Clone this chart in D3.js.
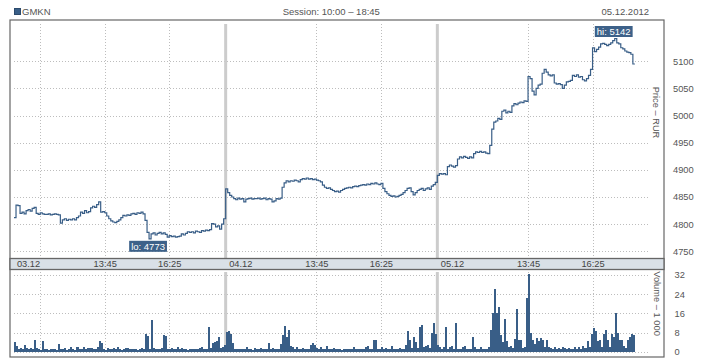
<!DOCTYPE html>
<html><head><meta charset="utf-8">
<script src="https://cdn.jsdelivr.net/npm/d3@7/dist/d3.min.js"></script>
<style>body{margin:0;background:#fff;} text{font-family:"Liberation Sans",Arial,sans-serif;}</style>
</head><body><svg id="c" width="718" height="360"></svg>
<script>
const ticker = "GMKN";
const sessionLabel = "Session: 10:00 – 18:45";
const dateLabel = "05.12.2012";
const dayLabels = ["03.12", "04.12", "05.12"];
const sessionMinutes = 525; // 10:00 – 18:45
const binMinutes = 5;
const timeTicks = [["13:45", 225], ["16:25", 385]];
const firstDayGrid = 65; // minutes after open (extra grid line on day 1)
const priceTicks = [4750, 4800, 4850, 4900, 4950, 5000, 5050, 5100];
const volTicks = [0, 8, 16, 24, 32];
const priceTitle = "Price – RUR";
const volTitle = "Volume – 1 000";

const price03 = [4812,4835,4834,4820,4822,4819,4825,4827,4824,4829,4831,4820,4818,4821,4819,4818,4818,4819,4817,4818,4819,4818,4817,4802,4808,4810,4807,4809,4808,4810,4808,4812,4815,4822,4820,4825,4821,4823,4830,4833,4831,4836,4841,4822,4823,4821,4815,4810,4806,4804,4803,4805,4808,4812,4816,4815,4817,4816,4819,4820,4818,4821,4820,4822,4819,4807,4785,4773,4782,4784,4780,4783,4785,4782,4784,4781,4776,4779,4777,4778,4776,4777,4778,4782,4780,4783,4786,4785,4786,4784,4787,4786,4785,4788,4787,4789,4788,4790,4801,4800,4795,4797,4791,4800,4810];
const price04 = [4865,4858,4853,4850,4847,4845,4848,4846,4847,4841,4846,4847,4848,4846,4847,4847,4848,4846,4847,4848,4845,4847,4846,4841,4843,4847,4846,4848,4868,4876,4880,4878,4880,4879,4881,4880,4878,4882,4884,4883,4885,4883,4884,4882,4883,4881,4880,4878,4872,4868,4866,4867,4864,4862,4860,4861,4859,4862,4864,4866,4867,4868,4867,4869,4870,4869,4871,4872,4873,4872,4874,4873,4875,4874,4876,4874,4873,4875,4866,4860,4856,4853,4851,4852,4850,4851,4853,4855,4858,4862,4866,4867,4860,4854,4858,4862,4864,4866,4862,4865,4867,4864,4870,4873,4877];
const price05 = [4890,4893,4892,4893,4891,4906,4909,4907,4905,4908,4920,4924,4922,4925,4923,4921,4924,4922,4930,4933,4932,4934,4932,4933,4931,4930,4945,4975,4988,4990,4995,4993,5008,5010,5005,5008,5006,5018,5022,5020,5023,5025,5024,5027,5026,5072,5068,5045,5038,5050,5056,5058,5078,5085,5080,5075,5073,5075,5060,5058,5059,5057,5050,5056,5062,5063,5065,5074,5072,5075,5071,5072,5066,5064,5068,5074,5085,5125,5118,5122,5126,5132,5133,5131,5129,5131,5134,5138,5142,5134,5132,5125,5123,5119,5117,5116,5113,5095];

const vol03 = [4.2,2.4,1.2,1.5,1,2.8,1.7,1,1.7,1,4.9,1.5,1,0.8,4.6,1,1,0.8,1,1,1.1,0.9,3.2,1,1,1.5,0.9,1,2,1,0.8,2,1,1,2,1,1.7,1.7,1.7,1,1,2,4.6,3.5,1,0.9,1.7,1,1,1.5,1,2,1,0.9,1,1.7,1.5,1,1,1.2,1,0.9,1,1.5,1,7.4,6.7,1.2,13.2,1.7,1,1,1,1.5,7,6.5,1,1,1.5,1,1,2,1,1.5,1,1,0.9,1,1,1,1,1,1.5,2,1,1.2,10.2,1.5,3.5,4,4.5,6,1.7,2,2.9];
const vol04 = [8.3,8.6,7.5,3.5,1,1.2,1,1,1.3,1,2,1,1,0.9,1.5,1,1,1.5,1,1,1,3.5,1,1.5,1,1,1.2,3.2,7,10.7,6,9,2.5,2,1,2,1,1,1.5,1,1,1,2.9,3.5,3,1.5,1,2,1,1,2.5,1,1,1.5,1,1,1,0.8,1,1,1,1,1,2,1,1,1,1,1,2,2.5,1,1,4.9,4.9,1,1,2,1,1.5,1,1,2.5,1,1,1,1.5,1,1,2.9,8.6,4.9,1.5,6.2,4,1.5,10.4,11,2,2.5,3,1.5,8,11.8,7.2];
const vol05 = [2.9,2,1,2,10.4,1.2,2,2.5,1,11.8,1,1.2,2,2.5,1,1,1.3,6,2,1,1,2,1,1,1.2,2,9,16.2,26,16,18.5,7,4,13.5,4.5,2,2.5,1.5,5.2,18,4.7,5,1.5,2,22.2,32.6,8,5,3.2,5.7,4.5,5.7,4.7,2,4.7,2,1.5,1,2,1,1.7,1,2,1.5,1,1.5,1,1,2,1,2,1,2.5,1.5,4.5,2,7.4,9.7,8.6,4.5,4.7,2,7.4,8.9,5,2,7.4,6,16.2,7.6,4.7,5,2.5,1.5,5,6.3,7.4,7];

const prices = [price03, price04, price05];
const vols = [vol03, vol04, vol05];

const blue = "#395e87";
const svg = d3.select("#c");
const frame = {l: 10, r: 664, t: 20, b: 357};
const plotL = 14, plotR = 649;

const x = d3.scaleLinear().domain([0, 3 * sessionMinutes]).range([plotL, plotR]);
const yP = d3.scaleLinear().domain([4750, 5100]).range([251.3, 61.3]);
const yV = d3.scaleLinear().domain([0, 32]).range([351.7, 275]);

// data points
const pts = [];
prices.forEach((arr, d) => arr.forEach((v, i) => pts.push({t: d * sessionMinutes + i * binMinutes, v})));
const last = pts[pts.length - 1];
const linePts = pts.concat([{t: last.t + binMinutes, v: last.v}]);
const vpts = [];
vols.forEach((arr, d) => arr.forEach((v, i) => vpts.push({t: d * sessionMinutes + i * binMinutes, v})));

// frame background
svg.append("rect").attr("x", frame.l).attr("y", frame.t).attr("width", frame.r - frame.l).attr("height", frame.b - frame.t)
  .attr("fill", "#fff").attr("stroke", "#666").attr("stroke-width", 1.2);

// vertical grid positions
const vGrid = [firstDayGrid];
[0, 1, 2].forEach(d => timeTicks.forEach(tt => vGrid.push(d * sessionMinutes + tt[1])));
const grid = svg.append("g").attr("stroke", "#bdbdbd").attr("stroke-width", 1).attr("stroke-dasharray", "1,2");
vGrid.forEach(t => {
  const xx = Math.round(x(t)) + 0.5;
  grid.append("line").attr("x1", xx).attr("x2", xx).attr("y1", 24).attr("y2", 258);
  grid.append("line").attr("x1", xx).attr("x2", xx).attr("y1", 272).attr("y2", 352);
});
priceTicks.forEach(p => {
  const yy = Math.round(yP(p)) + 0.5;
  grid.append("line").attr("x1", plotL).attr("x2", plotR).attr("y1", yy).attr("y2", yy);
});
volTicks.forEach(v => {
  const yy = Math.round(yV(v)) + 0.5;
  grid.append("line").attr("x1", plotL).attr("x2", plotR).attr("y1", yy).attr("y2", yy);
});

// day separators
[1, 2].forEach(d => {
  const xx = x(d * sessionMinutes);
  svg.append("line").attr("x1", xx).attr("x2", xx).attr("y1", 24).attr("y2", 258).attr("stroke", "#cccccc").attr("stroke-width", 3);
  svg.append("line").attr("x1", xx).attr("x2", xx).attr("y1", 272).attr("y2", 352).attr("stroke", "#cccccc").attr("stroke-width", 3);
});

// volume bars
const bw = x(binMinutes) - x(0);
svg.append("g").attr("shape-rendering", "crispEdges").selectAll("rect").data(vpts).join("rect")
  .attr("x", d => x(d.t)).attr("width", bw)
  .attr("y", d => yV(d.v)).attr("height", d => yV(0) - yV(d.v))
  .attr("fill", blue);

// price line
svg.append("path").datum(linePts)
  .attr("d", d3.line().x(d => x(d.t)).y(d => yP(d.v)).curve(d3.curveStepAfter))
  .attr("fill", "none").attr("stroke", blue).attr("stroke-width", 1.2);

// band for time axis
svg.append("rect").attr("x", frame.l).attr("y", 258.5).attr("width", frame.r - frame.l).attr("height", 11)
  .attr("fill", "#d9e0e7").attr("stroke", "#666").attr("stroke-width", 1.3);

const band = svg.append("g").attr("font-size", "9.3px").attr("fill", "#444");
dayLabels.forEach((lab, d) => {
  band.append("text").attr("x", d === 0 ? x(firstDayGrid) : x(d * sessionMinutes) + 3.5).attr("y", 267.3)
    .attr("text-anchor", d === 0 ? "end" : "start").text(lab);
  timeTicks.forEach(tt => band.append("text").attr("x", x(d * sessionMinutes + tt[1]) + 0.5).attr("y", 267.3)
    .attr("text-anchor", "middle").text(tt[0]));
});

// right axes
const pAxis = svg.append("g").attr("transform", `translate(${frame.r},0)`)
  .call(d3.axisRight(yP).tickValues(priceTicks).tickSize(0).tickPadding(9).tickFormat(d3.format("d")));
pAxis.select(".domain").remove();
pAxis.selectAll("text").attr("font-size", "9.3px").attr("fill", "#555").attr("font-family", '"Liberation Sans",Arial,sans-serif');
const vAxis = svg.append("g").attr("transform", `translate(${frame.r},0)`)
  .call(d3.axisRight(yV).tickValues(volTicks).tickSize(0).tickPadding(10.5).tickFormat(d3.format("d")));
vAxis.select(".domain").remove();
vAxis.selectAll("text").attr("font-size", "9.3px").attr("fill", "#555").attr("font-family", '"Liberation Sans",Arial,sans-serif');

svg.append("text").attr("transform", "translate(656,112.5) rotate(90)").attr("text-anchor", "middle")
  .attr("dominant-baseline", "central").attr("font-size", "9.3px").attr("fill", "#555").text(priceTitle);
svg.append("text").attr("transform", "translate(657,303.5) rotate(90)").attr("text-anchor", "middle")
  .attr("dominant-baseline", "central").attr("font-size", "9.3px").attr("fill", "#555").text(volTitle);

// header
svg.append("rect").attr("x", 14.5).attr("y", 8.5).attr("width", 6).attr("height", 6).attr("fill", blue).attr("stroke", "#2c4a6c").attr("stroke-width", 1);
svg.append("text").attr("x", 22).attr("y", 15).attr("font-size", "9.5px").attr("fill", "#555").text(ticker);
svg.append("text").attr("x", 331.3).attr("y", 15).attr("text-anchor", "middle").attr("font-size", "9.5px").attr("fill", "#555").text(sessionLabel);
svg.append("text").attr("x", plotR).attr("y", 15).attr("text-anchor", "end").attr("font-size", "9.5px").attr("fill", "#555").text(dateLabel);

// hi / lo labels
const hi = pts.reduce((a, b) => b.v > a.v ? b : a);
const lo = pts.reduce((a, b) => b.v < a.v ? b : a);
function flag(p, txt, above) {
  const g = svg.append("g");
  const t = g.append("text").attr("font-size", "9.5px").attr("fill", "#fff").attr("text-anchor", "middle").text(txt);
  const w = t.node().getComputedTextLength() + 4, h = 11;
  const cx = x(p.t) - 1;
  const top = above ? yP(p.v) - 1.5 - h : yP(p.v) + 2;
  g.insert("rect", "text").attr("x", cx - w / 2).attr("y", top).attr("width", w).attr("height", h).attr("fill", "#3d6189");
  t.attr("x", cx).attr("y", top + 8.8);
}
flag(hi, "hi: " + hi.v, true);
flag(lo, "lo: " + lo.v, false);
</script></body></html>
